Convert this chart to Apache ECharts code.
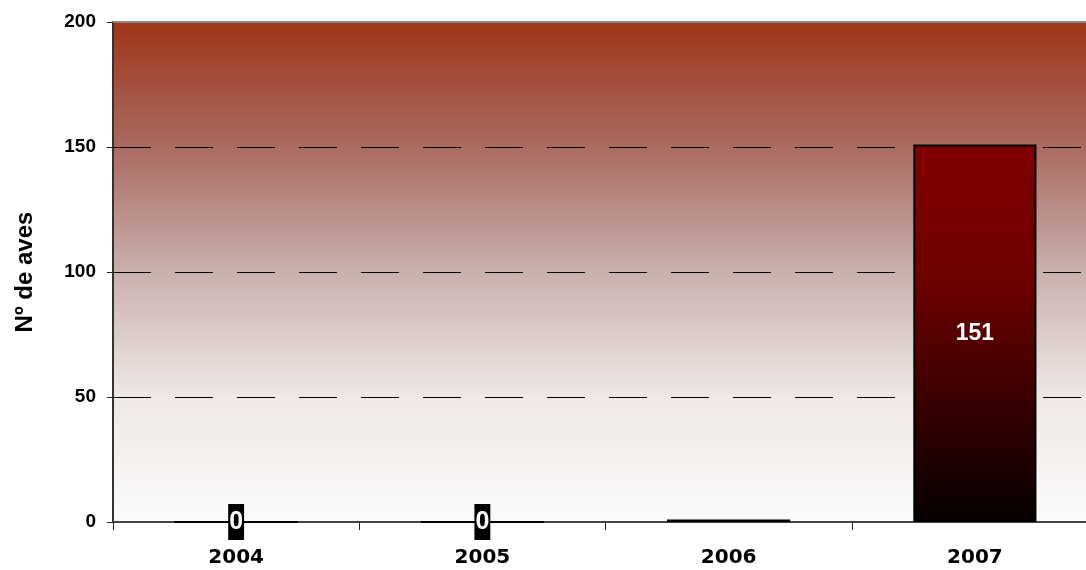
<!DOCTYPE html>
<html><head><meta charset="utf-8">
<script src="https://cdn.jsdelivr.net/npm/echarts@6/dist/echarts.min.js"></script>
<style>html,body{margin:0;padding:0;background:#fff}#c{width:1086px;height:570px}</style>
</head><body><div id="c"></div>
<script>
const categories = ['2004', '2005', '2006', '2007'];
const values = [0, 0, 1, 151];
const yTicks = [0, 50, 100, 150, 200];
const yTitle = 'Nº de aves';

const chart = echarts.init(document.getElementById('c'));
const arial = "'Liberation Sans', Arial, sans-serif";
const wide = "'DejaVu Sans', sans-serif";
chart.setOption({
  animation: false,
  backgroundColor: '#ffffff',
  grid: {
    left: 113, width: 985, top: 22, bottom: 48,
    outerBoundsMode: 'none', containLabel: false,
    show: true, borderWidth: 0,
    backgroundColor: new echarts.graphic.LinearGradient(0, 0, 0, 1, [
      {offset: 0, color: '#9e3519'},
      {offset: 0.25, color: '#aa6b60'},
      {offset: 0.5, color: '#c9b0ad'},
      {offset: 0.75, color: '#efe8e5'},
      {offset: 1, color: '#fbfbfb'}
    ])
  },
  xAxis: [{
    type: 'category', data: categories,
    axisLine: {lineStyle: {color: '#444', width: 2}},
    axisTick: {show: true, length: 8, lineStyle: {color: '#222', width: 1}},
    axisLabel: {color: '#000', fontFamily: wide, fontWeight: 'bold', fontSize: 20, margin: 26}
  }, {
    type: 'category', data: categories, position: 'top',
    axisLine: {show: true, lineStyle: {color: '#888', width: 2}},
    axisTick: {show: false}, axisLabel: {show: false}
  }],
  yAxis: {
    type: 'value', min: yTicks[0], max: yTicks[yTicks.length - 1], interval: 50,
    name: yTitle, nameLocation: 'middle', nameGap: 76, nameRotate: 90,
    nameTextStyle: {color: '#000', fontFamily: arial, fontWeight: 'bold', fontSize: 24},
    axisLine: {show: true, lineStyle: {color: '#333', width: 2}},
    axisTick: {show: true, length: 6, inside: false, lineStyle: {color: '#222'}},
    axisLabel: {color: '#000', fontFamily: arial, fontWeight: 'bold', fontSize: 19, margin: 17},
    splitLine: {show: true, lineStyle: {color: '#000', width: 1, type: [38, 24]}}
  },
  series: [{
    type: 'bar', barWidth: '50%',
    itemStyle: {
      borderColor: '#000', borderWidth: 2,
      color: new echarts.graphic.LinearGradient(0, 0, 0, 1, [
        {offset: 0, color: '#800000'},
        {offset: 0.35, color: '#700000'},
        {offset: 1, color: '#050000'}
      ])
    },
    label: {
      show: true, position: 'inside', color: '#fff',
      fontFamily: arial, fontWeight: 'bold', fontSize: 23,
      formatter: function (p) { return p.value === 1 ? '' : String(p.value); }
    },
    labelLayout: {hideOverlap: false},
    data: values.map(function (v) {
      if (v === 0) {
        return {value: v, label: {backgroundColor: '#000', padding: [6, 1, 5, 1], fontSize: 25}};
      }
      return v;
    })
  }]
});
</script>
</body></html>
